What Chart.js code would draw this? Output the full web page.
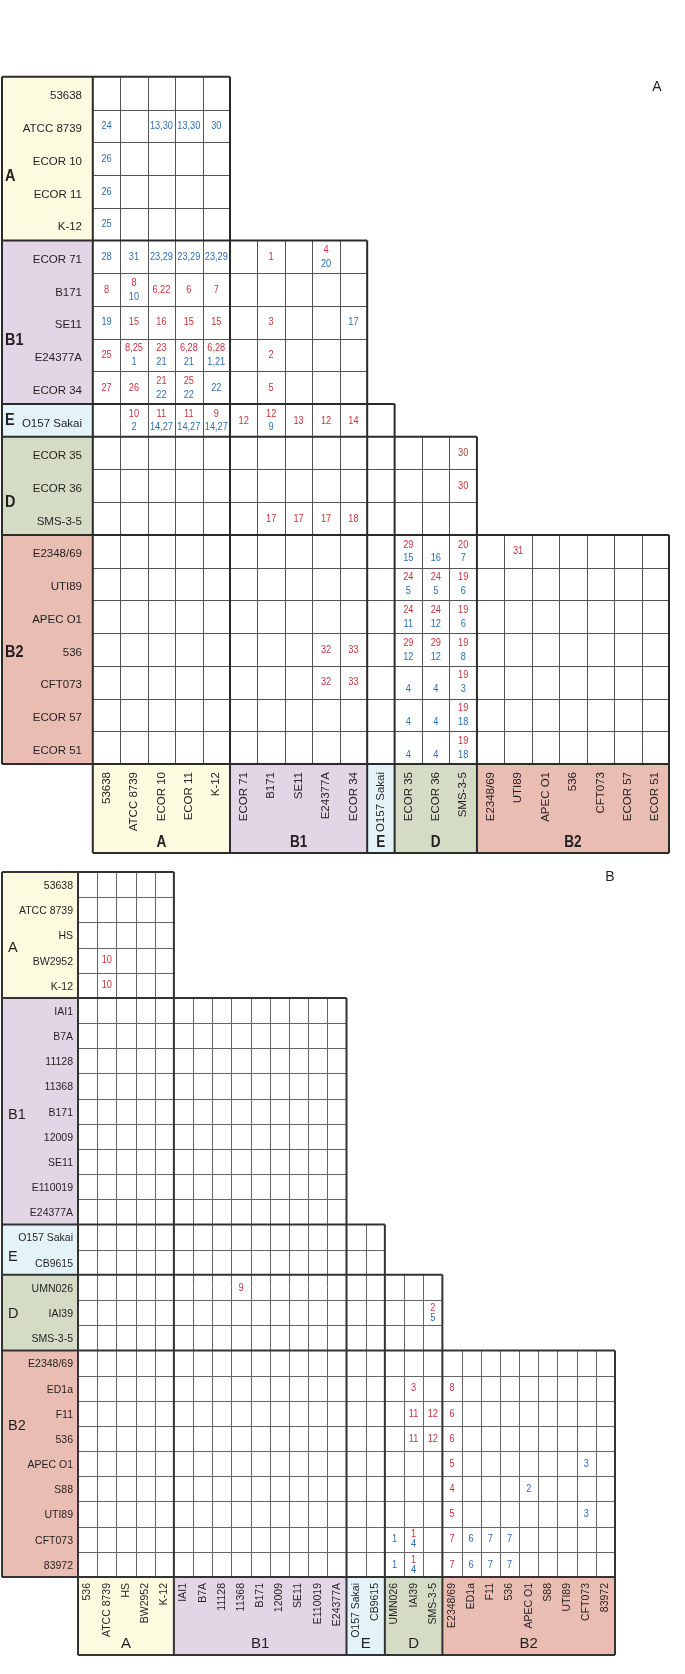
<!DOCTYPE html>
<html>
<head>
<meta charset="utf-8">
<script src="https://cdn.jsdelivr.net/npm/chart.js@4.4.0/dist/chart.umd.min.js"></script>
<style>
  html, body { margin: 0; padding: 0; background: #fff; }
  canvas { display: block; position: absolute; left: 0; }
  #graficoA { top: 0; }
  #graficoB { top: 860px; }
</style>
</head>
<body>
<canvas id="graficoA" width="685" height="860"></canvas>
<canvas id="graficoB" width="685" height="814"></canvas>
<script>
// ---- datos panel A ----
const gruposA = ["A", "B1", "E", "D", "B2"];
const tamanosA = [5, 5, 1, 3, 7];
const cepasA = ["53638", "ATCC 8739", "ECOR 10", "ECOR 11", "K-12",
  "ECOR 71", "B171", "SE11", "E24377A", "ECOR 34",
  "O157 Sakai",
  "ECOR 35", "ECOR 36", "SMS-3-5",
  "E2348/69", "UTI89", "APEC O1", "536", "CFT073", "ECOR 57", "ECOR 51"];
// [fila, columna, texto rojo, texto azul]  ("" = rojo vacio, azul abajo)
const celdasA = [
  [1, 0, null, "24"], [1, 2, null, "13,30"], [1, 3, null, "13,30"], [1, 4, null, "30"],
  [2, 0, null, "26"], [3, 0, null, "26"], [4, 0, null, "25"],
  [5, 0, null, "28"], [5, 1, null, "31"], [5, 2, null, "23,29"], [5, 3, null, "23,29"], [5, 4, null, "23,29"], [5, 6, "1", null], [5, 8, "4", "20"],
  [6, 0, "8", null], [6, 1, "8", "10"], [6, 2, "6,22", null], [6, 3, "6", null], [6, 4, "7", null],
  [7, 0, null, "19"], [7, 1, "15", null], [7, 2, "16", null], [7, 3, "15", null], [7, 4, "15", null], [7, 6, "3", null], [7, 9, null, "17"],
  [8, 0, "25", null], [8, 1, "8,25", "1"], [8, 2, "23", "21"], [8, 3, "6,28", "21"], [8, 4, "6,28", "1,21"], [8, 6, "2", null],
  [9, 0, "27", null], [9, 1, "26", null], [9, 2, "21", "22"], [9, 3, "25", "22"], [9, 4, null, "22"], [9, 6, "5", null],
  [10, 1, "10", "2"], [10, 2, "11", "14,27"], [10, 3, "11", "14,27"], [10, 4, "9", "14,27"], [10, 5, "12", null], [10, 6, "12", "9"], [10, 7, "13", null], [10, 8, "12", null], [10, 9, "14", null],
  [11, 13, "30", null], [12, 13, "30", null],
  [13, 6, "17", null], [13, 7, "17", null], [13, 8, "17", null], [13, 9, "18", null],
  [14, 11, "29", "15"], [14, 12, "", "16"], [14, 13, "20", "7"], [14, 15, "31", null],
  [15, 11, "24", "5"], [15, 12, "24", "5"], [15, 13, "19", "6"],
  [16, 11, "24", "11"], [16, 12, "24", "12"], [16, 13, "19", "6"],
  [17, 8, "32", null], [17, 9, "33", null], [17, 11, "29", "12"], [17, 12, "29", "12"], [17, 13, "19", "8"],
  [18, 8, "32", null], [18, 9, "33", null], [18, 11, "", "4"], [18, 12, "", "4"], [18, 13, "19", "3"],
  [19, 11, "", "4"], [19, 12, "", "4"], [19, 13, "19", "18"],
  [20, 11, "", "4"], [20, 12, "", "4"], [20, 13, "19", "18"]
];

// ---- datos panel B ----
const gruposB = ["A", "B1", "E", "D", "B2"];
const tamanosB = [5, 9, 2, 3, 9];
const cepasB = ["53638", "ATCC 8739", "HS", "BW2952", "K-12",
  "IAI1", "B7A", "11128", "11368", "B171", "12009", "SE11", "E110019", "E24377A",
  "O157 Sakai", "CB9615",
  "UMN026", "IAI39", "SMS-3-5",
  "E2348/69", "ED1a", "F11", "536", "APEC O1", "S88", "UTI89", "CFT073", "83972"];
const columnasB = ["536", "ATCC 8739", "HS", "BW2952", "K-12",
  "IAI1", "B7A", "11128", "11368", "B171", "12009", "SE11", "E110019", "E24377A",
  "O157 Sakai", "CB9615",
  "UMN026", "IAI39", "SMS-3-5",
  "E2348/69", "ED1a", "F11", "536", "APEC O1", "S88", "UTI89", "CFT073", "83972"];
const celdasB = [
  [3, 1, "10", null], [4, 1, "10", null],
  [16, 8, "9", null],
  [17, 18, "2", "5"],
  [20, 17, "3", null], [20, 19, "8", null],
  [21, 17, "11", null], [21, 18, "12", null], [21, 19, "6", null],
  [22, 17, "11", null], [22, 18, "12", null], [22, 19, "6", null],
  [23, 19, "5", null], [23, 26, null, "3"],
  [24, 19, "4", null], [24, 23, null, "2"],
  [25, 19, "5", null], [25, 26, null, "3"],
  [26, 16, null, "1"], [26, 17, "1", "4"], [26, 19, "7", null], [26, 20, null, "6"], [26, 21, null, "7"], [26, 22, null, "7"],
  [27, 16, null, "1"], [27, 17, "1", "4"], [27, 19, "7", null], [27, 20, null, "6"], [27, 21, null, "7"], [27, 22, null, "7"]
];

const coloresGrupo = ["#fcfadf", "#e2d5e6", "#e4f3f7", "#d4dcc5", "#eabdb3"];
const ROJO = "#c8323e";
const AZUL = "#2f6db2";
const TINTA = "#231f20";
const FUENTE = '"Liberation Sans", Arial, Helvetica, sans-serif';

function textoAngosto(ctx, texto, x, y, escala) {
  ctx.save();
  ctx.translate(x, y);
  ctx.scale(escala, 1);
  ctx.fillText(texto, 0, 0);
  ctx.restore();
}

function crearMatriz(idCanvas, cfg) {
  const nFilas = cfg.filas.length;
  const nCols = cfg.columnas.length;
  const grupoDe = [];
  const inicio = [];
  let k = 0;
  cfg.tamanos.forEach((t, g) => {
    inicio.push(k);
    for (let i = 0; i < t; i++) grupoDe.push(g);
    k += t;
  });
  inicio.push(k);
  const G = cfg.tamanos.length;

  const rojos = [];
  const azules = [];
  cfg.celdas.forEach(([f, c, r, a]) => {
    const dos = r !== null && a !== null;
    if (r) rojos.push({ x: c + 0.5, y: f + 0.5 - (dos ? cfg.sep : 0), t: r });
    if (a) azules.push({ x: c + 0.5, y: f + 0.5 + (dos ? cfg.sep : 0), t: a });
  });

  const pluginMatriz = {
    id: "matriz",
    beforeDatasetsDraw(chart) {
      const { ctx, chartArea: ca, scales } = chart;
      const px = (v) => scales.x.getPixelForValue(v);
      const py = (v) => scales.y.getPixelForValue(v);
      const fondoBanda = ca.bottom + cfg.banda;
      ctx.save();
      // fondos de grupos
      for (let g = 0; g < G; g++) {
        ctx.fillStyle = coloresGrupo[g];
        ctx.fillRect(cfg.izq, py(inicio[g]), ca.left - cfg.izq, py(inicio[g + 1]) - py(inicio[g]));
        ctx.fillRect(px(inicio[g]), ca.bottom, px(inicio[g + 1]) - px(inicio[g]), cfg.banda);
      }
      // lineas finas
      ctx.strokeStyle = cfg.lineaFina;
      ctx.lineWidth = 1;
      ctx.beginPath();
      for (let i = 1; i < nFilas; i++) {
        if (inicio.includes(i)) continue;
        const yy = Math.round(py(i)) + 0.5;
        ctx.moveTo(ca.left, yy);
        ctx.lineTo(px(inicio[grupoDe[i] + 1]), yy);
      }
      for (let j = 1; j < nCols; j++) {
        if (inicio.includes(j)) continue;
        const xx = Math.round(px(j)) + 0.5;
        ctx.moveTo(xx, py(inicio[grupoDe[j - 1]]));
        ctx.lineTo(xx, ca.bottom);
      }
      ctx.stroke();
      // lineas gruesas
      ctx.strokeStyle = cfg.lineaGruesa;
      ctx.lineWidth = cfg.grosor;
      ctx.beginPath();
      for (let g = 0; g <= G; g++) {
        const yy = py(inicio[g]);
        ctx.moveTo(cfg.izq, yy);
        ctx.lineTo(g < G ? px(inicio[g + 1]) : ca.right, yy);
        const xx = px(inicio[g]);
        ctx.moveTo(xx, py(inicio[Math.max(g - 1, 0)]));
        ctx.lineTo(xx, fondoBanda);
      }
      ctx.moveTo(cfg.izq, py(0));
      ctx.lineTo(cfg.izq, ca.bottom);
      ctx.moveTo(ca.left, fondoBanda);
      ctx.lineTo(ca.right, fondoBanda);
      ctx.stroke();

      // nombres de filas
      ctx.fillStyle = TINTA;
      ctx.font = cfg.fuenteFila + " " + FUENTE;
      ctx.textAlign = "right";
      ctx.textBaseline = "middle";
      cfg.filas.forEach((nombre, i) => {
        ctx.fillText(nombre, ca.left - cfg.margenFila, py(i + 0.5) + cfg.bajaFila);
      });
      // letras de grupo a la izquierda
      ctx.font = cfg.fuenteLetra + " " + FUENTE;
      ctx.textAlign = "left";
      cfg.grupos.forEach((gr, g) => {
        textoAngosto(ctx, gr, cfg.izq + cfg.margenLetra, py(cfg.letraFila[g]), cfg.escalaLetra);
      });
      // nombres de columnas (girados)
      ctx.font = cfg.fuenteColumna + " " + FUENTE;
      ctx.textAlign = "right";
      cfg.columnas.forEach((nombre, j) => {
        ctx.save();
        ctx.translate(px(j + 0.5), ca.bottom + cfg.bajaColumna);
        ctx.rotate(-Math.PI / 2);
        ctx.fillText(nombre, 0, 0);
        ctx.restore();
      });
      // letras de grupo en la banda
      ctx.font = cfg.fuenteLetraBanda + " " + FUENTE;
      ctx.textAlign = "center";
      cfg.grupos.forEach((gr, g) => {
        textoAngosto(ctx, gr, (px(inicio[g]) + px(inicio[g + 1])) / 2, ca.bottom + cfg.letraBanda, cfg.escalaLetra);
      });
      // letra del panel
      ctx.font = "14px " + FUENTE;
      ctx.fillText(cfg.esquina.texto, cfg.esquina.x, cfg.esquina.y);
      ctx.restore();
    },
    afterDatasetsDraw(chart) {
      const ctx = chart.ctx;
      ctx.save();
      ctx.font = cfg.fuenteCelda + " " + FUENTE;
      ctx.textAlign = "center";
      ctx.textBaseline = "middle";
      chart.data.datasets.forEach((ds, i) => {
        const meta = chart.getDatasetMeta(i);
        ctx.fillStyle = ds.colorTexto;
        meta.data.forEach((pt, n) => {
          textoAngosto(ctx, ds.data[n].t, pt.x, pt.y, 0.8);
        });
      });
      ctx.restore();
    }
  };

  return new Chart(document.getElementById(idCanvas).getContext("2d"), {
    type: "scatter",
    data: {
      datasets: [
        { label: "rojo", data: rojos, pointRadius: 0, colorTexto: ROJO },
        { label: "azul", data: azules, pointRadius: 0, colorTexto: AZUL }
      ]
    },
    options: {
      responsive: false,
      animation: false,
      layout: { padding: cfg.padding },
      scales: {
        x: { type: "linear", min: 0, max: nCols, display: false },
        y: { type: "linear", min: 0, max: nFilas, reverse: true, display: false }
      },
      plugins: { legend: { display: false }, tooltip: { enabled: false } }
    },
    plugins: [pluginMatriz]
  });
}

crearMatriz("graficoA", {
  filas: cepasA, columnas: cepasA, tamanos: tamanosA, celdas: celdasA, grupos: gruposA,
  padding: { left: 92.8, right: 16, top: 76.8, bottom: 96 },
  izq: 2, banda: 89, sep: 0.21,
  lineaFina: "#555", lineaGruesa: "#2b2b2b", grosor: 2,
  fuenteFila: "11.5px", margenFila: 10.8, bajaFila: 3,
  fuenteLetra: "bold 17px", escalaLetra: 0.85, margenLetra: 3, letraFila: [3.05, 8.05, 10.5, 13.0, 17.6],
  fuenteColumna: "11.5px", bajaColumna: 8,
  fuenteLetraBanda: "bold 16px", letraBanda: 79,
  fuenteCelda: "11.5px",
  esquina: { texto: "A", x: 657, y: 87 }
});

crearMatriz("graficoB", {
  filas: cepasB, columnas: columnasB, tamanos: tamanosB, celdas: celdasB, grupos: gruposB,
  padding: { left: 78, right: 70, top: 12, bottom: 97 },
  izq: 2, banda: 78, sep: 0.2,
  lineaFina: "#666", lineaGruesa: "#333", grosor: 2,
  fuenteFila: "10.5px", margenFila: 5, bajaFila: 1.5,
  fuenteLetra: "14.5px", escalaLetra: 1, margenLetra: 6, letraFila: [3.0, 9.65, 15.3, 17.55, 22.0],
  fuenteColumna: "10.5px", bajaColumna: 6,
  fuenteLetraBanda: "15px", letraBanda: 67,
  fuenteCelda: "11.5px",
  esquina: { texto: "B", x: 610, y: 17 }
});
</script>
</body>
</html>
